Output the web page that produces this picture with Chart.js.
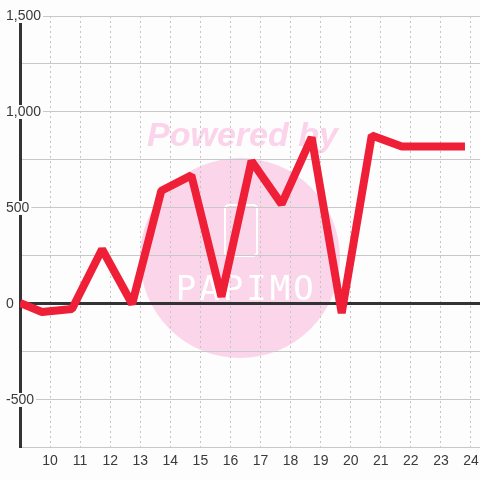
<!DOCTYPE html>
<html>
<head>
<meta charset="utf-8">
<script src="https://cdn.jsdelivr.net/npm/chart.js@4"></script>
<style>
html,body{margin:0;padding:0;background:#fcfdfc;}
canvas{display:block;}
</style>
</head>
<body>
<canvas id="c" width="480" height="480"></canvas>
<script>
// ---- data ----
const xValues = [9, 9.73, 10.73, 11.73, 12.73, 13.7, 14.7, 15.7, 16.7, 17.7, 18.7, 19.7, 20.7, 21.7, 22.7, 23.8];
const yValues = [5, -42, -26, 285, 0, 590, 670, 38, 745, 520, 868, -48, 878, 820, 820, 820];
const xTicks = [10, 11, 12, 13, 14, 15, 16, 17, 18, 19, 20, 21, 22, 23, 24];
const yTicks = [-750, -500, -250, 0, 250, 500, 750, 1000, 1250, 1500];
const yLabelled = [-500, 0, 500, 1000, 1500];
const xMin = 9, xMax = 24.3, yMin = -750, yMax = 1500;

const BG = '#fcfdfc';

const watermark = {
  id: 'watermark',
  beforeDraw(chart) {
    const ctx = chart.ctx;
    ctx.save();
    ctx.fillStyle = BG;
    ctx.fillRect(0, 0, chart.width, chart.height);
    // circle
    ctx.fillStyle = '#fbd6ea';
    ctx.beginPath();
    ctx.arc(240, 258, 100, 0, Math.PI * 2);
    ctx.fill();
    // Powered by
    ctx.fillStyle = '#fbd3ea';
    ctx.font = 'italic bold 34px "Liberation Sans", Arial, sans-serif';
    ctx.textBaseline = 'alphabetic';
    ctx.textAlign = 'left';
    ctx.fillText('Powered by', 147, 146);
    // logo rect
    ctx.strokeStyle = '#ffffff';
    ctx.lineWidth = 2;
    ctx.beginPath();
    ctx.roundRect(225, 205, 32, 51, 4);
    ctx.stroke();
    // PAPIMO
    ctx.fillStyle = '#ffffff';
    ctx.font = '34px "DejaVu Sans Mono", monospace';
    ctx.textAlign = 'center';
    const letters = 'PAPIMO';
    for (let i = 0; i < letters.length; i++) {
      ctx.fillText(letters[i], 186 + i * 23.5, 300);
    }
    ctx.restore();
  }
};

new Chart(document.getElementById('c'), {
  type: 'line',
  data: {
    datasets: [{
      data: xValues.map((x, i) => ({x: x, y: yValues[i]})),
      borderColor: '#ee1f37',
      borderWidth: 8,
      pointRadius: 0,
      tension: 0,
      fill: false,
      borderJoinStyle: 'bevel',
      borderCapStyle: 'butt'
    }]
  },
  options: {
    responsive: false,
    animation: false,
    devicePixelRatio: 1,
    layout: {padding: {left: 6, top: 16, right: 0, bottom: 6}},
    plugins: {legend: {display: false}, tooltip: {enabled: false}},
    scales: {
      x: {
        type: 'linear',
        min: xMin,
        max: xMax,
        afterBuildTicks: (s) => { s.ticks = xTicks.map(v => ({value: v})); },
        afterFit: (s) => { s.paddingLeft = 0; s.paddingRight = 0; },
        ticks: {
          autoSkip: false,
          maxRotation: 0,
          padding: 0,
          color: '#3a3a3a',
          font: {family: '"Liberation Sans", Arial, sans-serif', size: 14, lineHeight: 1.86},
          callback: (v) => String(v)
        },
        grid: {color: '#c4c4c4', lineWidth: 1, drawTicks: false},
        border: {display: false, dash: [2, 3]}
      },
      y: {
        type: 'linear',
        min: yMin,
        max: yMax,
        afterBuildTicks: (s) => { s.ticks = yTicks.map(v => ({value: v})); },
        afterFit: (s) => {
          s.width = 14; s.paddingTop = 0; s.paddingBottom = 0;
          // let the labels overlap the plot area (no clipping to the axis box)
          s._computeLabelArea = function () { return undefined; };
        },
        ticks: {
          crossAlign: 'far',
          padding: 0,
          color: '#3a3a3a',
          font: {family: '"Liberation Sans", Arial, sans-serif', size: 14, lineHeight: 1},
          showLabelBackdrop: true,
          backdropPadding: {left: 2, right: 2, top: 0, bottom: 0},
          backdropColor: (ctx) => (yLabelled.includes(ctx.tick && ctx.tick.value) ? BG : 'rgba(0,0,0,0)'),
          callback: (v) => (yLabelled.includes(v) ? v.toLocaleString('en-US') : '')
        },
        grid: {
          drawTicks: false,
          color: (ctx) => (ctx.tick && ctx.tick.value === 0 ? '#333333' : '#c8c8c8'),
          lineWidth: (ctx) => (ctx.tick && ctx.tick.value === 0 ? 3 : 1)
        },
        border: {display: true, color: '#333333', width: 3}
      }
    }
  },
  plugins: [watermark]
});
</script>
</body>
</html>
